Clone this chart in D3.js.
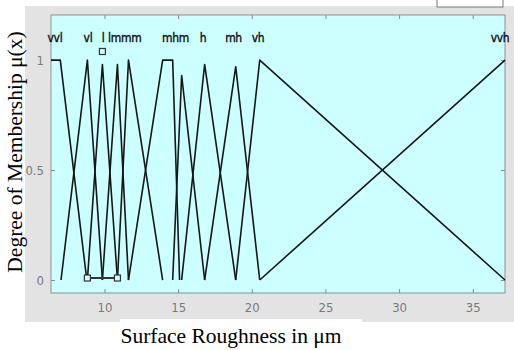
<!DOCTYPE html>
<html>
<head>
<meta charset="utf-8">
<script src="https://cdn.jsdelivr.net/npm/d3@7"></script>
<style>
body { margin: 0; background: #fff; }
svg { display: block; }
.tick-lbl { font-family: "Liberation Sans Narrow", "DejaVu Sans", sans-serif; font-stretch: condensed; font-size: 13px; fill: #7a7a7a; }
.mf-lbl { font-family: "Liberation Sans Narrow", "DejaVu Sans", sans-serif; font-stretch: condensed; font-size: 12px; letter-spacing: -0.3px; fill: #111; stroke: #111; stroke-width: 0.35; }
.title { font-family: "Liberation Serif", "Times New Roman", serif; font-size: 21.5px; fill: #000; }
</style>
</head>
<body>
<script>
// axis ticks
var xTicks = [10, 15, 20, 25, 30, 35];
var yTicks = [0, 0.5, 1];
var yTickLabels = ["0", "0.5", "1"];

// membership functions (x in um, y = membership)
var mfX = [
  [6.37, 7.0, 8.8],
  [7.05, 8.84, 9.86],
  [8.84, 9.86, 10.88],
  [9.86, 10.88, 11.63],
  [10.88, 11.63, 13.95],
  [11.63, 13.95, 14.63, 15.1],
  [14.63, 15.24, 16.8],
  [15.24, 16.8, 18.91],
  [16.8, 18.91, 20.54],
  [18.91, 20.54, 37.19],
  [20.54, 37.19]
];
var mfY = [
  [1, 1, 0],
  [0, 1, 0],
  [0, 0.98, 0],
  [0, 0.98, 0],
  [0, 1, 0],
  [0, 1, 1, 0],
  [0, 0.93, 0],
  [0, 0.98, 0],
  [0, 0.97, 0],
  [0, 1, 0],
  [0, 1]
];
// labels above the peaks, as printed (some names run together)
var mfLabels = ["vvl", "vl", "l", "lmmm", "mhm", "h", "mh", "vh", "vvh"];
var mfLabelX = [6.64, 8.88, 9.9, 11.38, 14.82, 16.69, 18.76, 20.42, 36.85];
var selected = 2; // "l" is the highlighted MF

var W = 514, H = 350;
var svg = d3.select("body").append("svg").attr("width", W).attr("height", H);

// figure background
svg.append("rect").attr("x", 25).attr("y", 6).attr("width", 489).attr("height", 316).attr("fill", "#e3e3e3");
svg.append("rect").attr("x", 437).attr("y", -1).attr("width", 66).attr("height", 8)
  .attr("fill", "#fff").attr("stroke", "#777").attr("stroke-width", 1);
svg.append("rect").attr("x", 120).attr("y", 319).attr("width", 242).attr("height", 31).attr("fill", "#fff");

var pLeft = 51, pRight = 505, pTop = 15, pBottom = 293;
var x = d3.scaleLinear().domain([6.37, 37.19]).range([pLeft, pRight]);
var y = d3.scaleLinear().domain([-0.059, 1.205]).range([pBottom, pTop]);

svg.append("rect").attr("x", pLeft).attr("y", pTop).attr("width", pRight - pLeft).attr("height", pBottom - pTop)
  .attr("fill", "#ccffff");

// axes (inward ticks like matlab)
var gx = svg.append("g").attr("transform", "translate(0," + pBottom + ")")
  .call(d3.axisBottom(x).tickValues(xTicks).tickSizeInner(-4).tickSizeOuter(0).tickPadding(10));
var gxTop = svg.append("g").attr("transform", "translate(0," + pTop + ")")
  .call(d3.axisTop(x).tickValues(xTicks).tickSizeInner(-4).tickSizeOuter(0).tickFormat(""));
var gy = svg.append("g").attr("transform", "translate(" + pLeft + ",0)")
  .call(d3.axisLeft(y).tickValues(yTicks).tickSizeInner(-4).tickSizeOuter(0).tickPadding(7)
    .tickFormat(function(d, i) { return yTickLabels[i]; }));
var gyR = svg.append("g").attr("transform", "translate(" + pRight + ",0)")
  .call(d3.axisRight(y).tickValues(yTicks).tickSizeInner(-4).tickSizeOuter(0).tickFormat(""));

[gx, gxTop, gy, gyR].forEach(function(g) {
  g.select(".domain").remove();
  g.attr("font-family", null).attr("font-size", null);
  g.selectAll("line").attr("stroke", "#8a8a8a");
  g.selectAll("text").attr("class", "tick-lbl").attr("fill", null);
});

svg.append("rect").attr("x", pLeft).attr("y", pTop).attr("width", pRight - pLeft).attr("height", pBottom - pTop)
  .attr("fill", "none").attr("stroke", "#8f8f8f").attr("stroke-width", 1);

// membership function lines
var line = d3.line().x(function(d) { return x(d[0]); }).y(function(d) { return y(d[1]); });
var mfs = mfX.map(function(xs, i) {
  return xs.map(function(v, j) { return [v, mfY[i][j]]; });
});

svg.append("g").selectAll("path").data(mfs).enter().append("path")
  .attr("fill", "none").attr("stroke", "#161616").attr("stroke-width", 1.6)
  .attr("stroke-linejoin", "round")
  .attr("d", line);

svg.append("g").selectAll("text").data(mfLabels).enter().append("text")
  .attr("class", "mf-lbl").attr("text-anchor", "middle")
  .attr("x", function(d, i) { return x(mfLabelX[i]); })
  .attr("y", y(1.08))
  .text(function(d) { return d; });

// selected MF markers
var sel = mfs[selected];
svg.append("line")
  .attr("x1", x(sel[0][0])).attr("x2", x(sel[2][0]))
  .attr("y1", y(0) - 2).attr("y2", y(0) - 2)
  .attr("stroke", "#333").attr("stroke-width", 2);
var marks = [[sel[0][0], 0], [sel[1][0], 1.03], [sel[2][0], 0]];
svg.append("g").selectAll("rect").data(marks).enter().append("rect")
  .attr("x", function(d) { return x(d[0]) - 3; })
  .attr("y", function(d) { return y(d[1]) - 5; })
  .attr("width", 6).attr("height", 6)
  .attr("fill", "#ccffff").attr("stroke", "#333").attr("stroke-width", 1.2);

// titles
svg.append("text").attr("class", "title").attr("text-anchor", "middle")
  .attr("x", 231).attr("y", 343).text("Surface Roughness in \u03bcm");
svg.append("text").attr("class", "title").attr("text-anchor", "middle")
  .attr("transform", "translate(22,152) rotate(-90)")
  .text("Degree of Membership \u03bc(x)");
</script>
</body>
</html>
